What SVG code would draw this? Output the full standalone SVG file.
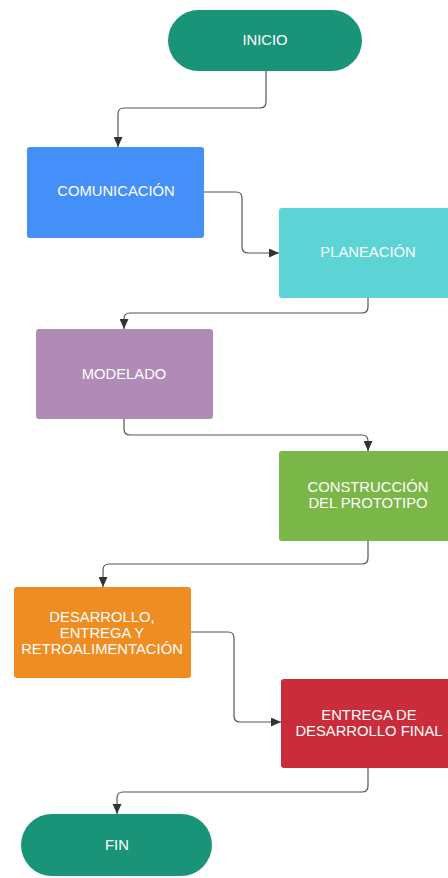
<svg xmlns="http://www.w3.org/2000/svg" width="448" height="878" viewBox="0 0 448 878">
<style>
.lbl{font-family:"Liberation Sans",Arial,sans-serif;font-size:14.8px;fill:#ffffff;text-anchor:middle}
.con{fill:none;stroke:#555555;stroke-width:1.2;marker-end:url(#arr)}
</style>
<defs>
<marker id="arr" markerUnits="userSpaceOnUse" markerWidth="11" markerHeight="9" refX="10" refY="4.5" orient="auto">
<path d="M0,0 L10,4.5 L0,9 z" fill="#333333"/>
</marker>
</defs>
<rect width="448" height="878" fill="#ffffff"/>
<g id="connectors">
<path class="con" d="M266 71 V102 Q266 108 260 108 H124 Q118 108 118 114 V147"/>
<path class="con" d="M204 192 H236 Q242 192 242 198 V247 Q242 253 248 253 H279"/>
<path class="con" d="M368 298 V307 Q368 313 362 313 H130 Q124 313 124 319 V329"/>
<path class="con" d="M124 419 V429 Q124 435 130 435 H362 Q368 435 368 441 V451"/>
<path class="con" d="M368 541 V558 Q368 564 362 564 H109 Q103 564 103 570 V587"/>
<path class="con" d="M191 632 H228 Q234 632 234 638 V716 Q234 722 240 722 H281"/>
<path class="con" d="M368 768 V786 Q368 792 362 792 H123 Q117 792 117 798 V814"/>
</g>
<g id="inicio">
<rect x="168" y="10" width="194" height="61" rx="30.5" fill="#1a9479"/>
<text class="lbl" x="265" y="45">INICIO</text>
</g>
<g id="comunicacion">
<rect x="27" y="147" width="177" height="91" rx="3" fill="#4590f8"/>
<text class="lbl" x="116" y="196">COMUNICACIÓN</text>
</g>
<g id="planeacion">
<rect x="279" y="208" width="178" height="90" rx="3" fill="#5cd4d6"/>
<text class="lbl" x="368" y="257">PLANEACIÓN</text>
</g>
<g id="modelado">
<rect x="36" y="329" width="177" height="90" rx="3" fill="#b08bb5"/>
<text class="lbl" x="124" y="379">MODELADO</text>
</g>
<g id="construccion">
<rect x="279" y="451" width="178" height="90" rx="3" fill="#7ab648"/>
<text class="lbl" x="368" y="492">CONSTRUCCIÓN</text>
<text class="lbl" x="368" y="508">DEL PROTOTIPO</text>
</g>
<g id="desarrollo">
<rect x="14" y="587" width="177" height="91" rx="3" fill="#ef8d22"/>
<text class="lbl" x="102" y="622">DESARROLLO,</text>
<text class="lbl" x="102" y="638">ENTREGA Y</text>
<text class="lbl" x="102" y="654">RETROALIMENTACIÓN</text>
</g>
<g id="entrega">
<rect x="281" y="679" width="178" height="89" rx="3" fill="#c92d39"/>
<text class="lbl" x="369" y="720">ENTREGA DE</text>
<text class="lbl" x="369" y="736">DESARROLLO FINAL</text>
</g>
<g id="fin">
<rect x="21" y="814" width="191" height="62" rx="31" fill="#1a9479"/>
<text class="lbl" x="117" y="850">FIN</text>
</g>
</svg>
